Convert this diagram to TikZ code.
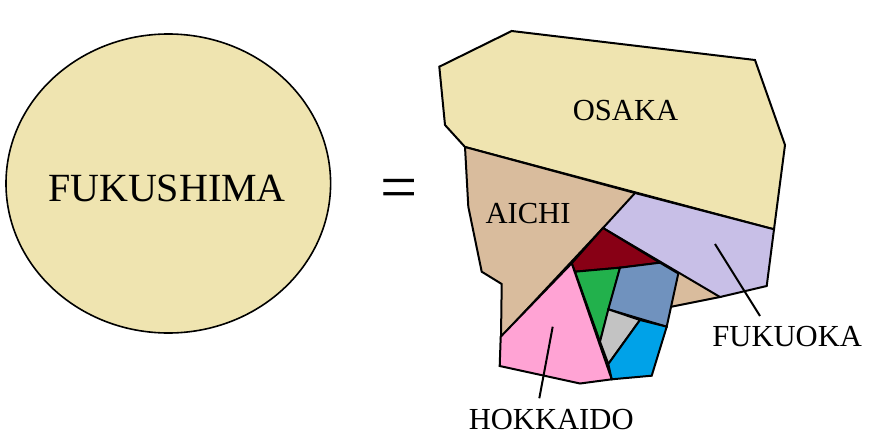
\documentclass[tikz,border=0pt]{standalone}
\usepackage{fontspec}
\setmainfont{Liberation Serif}
\definecolor{osakacol}{RGB}{239,228,176}
\definecolor{aichicol}{RGB}{217,188,157}
\definecolor{fukuokacol}{RGB}{200,191,231}
\definecolor{hokkaidocol}{RGB}{255,163,212}
\definecolor{darkredcol}{RGB}{136,0,21}
\definecolor{greencol}{RGB}{34,177,76}
\definecolor{steelcol}{RGB}{112,146,190}
\definecolor{graycol}{RGB}{195,195,195}
\definecolor{cyancol}{RGB}{0,162,232}
\tikzset{region/.style={draw, line width=2pt, line join=miter}}
\def\bigfont{\fontsize{40}{48}\selectfont}
\def\labfont{\fontsize{30.6}{37}\selectfont}

\begin{document}
\begin{tikzpicture}[x=1pt,y=-1pt]
        \useasboundingbox (0,0) rectangle (875,447);
        \draw[fill=osakacol, line width=1.6pt] (168.3,183.5) ellipse [x radius=162.3, y radius=149.5];
        \draw (167,188) node (fukushima) {\bigfont FUKUSHIMA};
        \draw (398.7,194) node (equals) {\fontsize{66}{70}\selectfont =};
        % the pieces
        \draw[region, fill=osakacol] (439.3,66.7) -- (511.7,31) -- (755,60) -- (785,145) -- (774,229.3) -- (465,147) -- (445,125) -- cycle;
        \draw[region, fill=aichicol] (465,147) -- (635,193) -- (720,297) -- (670,307) -- (603,228) -- (501,337) -- (501.7,284) -- (481.7,271.7) -- (468.3,206.7) -- cycle;
        \draw[region, fill=fukuokacol] (635,193) -- (774,229.3) -- (766.7,286) -- (720,297) -- (603,228) -- cycle;
        \draw[region, fill=darkredcol] (603,228) -- (660,262.7) -- (620,267.7) -- (575,271.7) -- (571.7,263.3) -- cycle;
        \draw[region, fill=greencol] (575,271.7) -- (620,267.7) -- (600,341.7) -- cycle;
        \draw[region, fill=steelcol] (620,267.7) -- (660,262.7) -- (678.3,273.5) -- (666.7,326.7) -- (608.3,309.3) -- cycle;
        \draw[region, fill=graycol] (608.3,309.3) -- (640,320) -- (608.3,364) -- (600,341.7) -- cycle;
        \draw[region, fill=cyancol] (640,320) -- (666.7,326.7) -- (651.7,375.7) -- (611.7,379.3) -- (608.3,364) -- cycle;
        \draw[region, fill=hokkaidocol] (571.7,263.3) -- (611.7,379.3) -- (580,383.5) -- (499.7,366) -- (500.7,336.7) -- cycle;
        % labels
        \draw (625.5,110.8) node (osaka) {\labfont OSAKA};
        \draw (528,213.7) node (aichi) {\labfont AICHI};
        \draw (787.2,336.7) node (fukuoka) {\labfont FUKUOKA};
        \draw (551.2,419.3) node (hokkaido) {\labfont HOKKAIDO};
        \coordinate (fukuoka-in) at (715,244);
        \coordinate (fukuoka-out) at (760,316);
        \coordinate (hokkaido-in) at (552.7,326.7);
        \coordinate (hokkaido-out) at (539.3,398.3);
        \draw[line width=2pt] (fukuoka-in) -- (fukuoka-out);
        \draw[line width=2pt] (hokkaido-in) -- (hokkaido-out);
      \end{tikzpicture}
\end{document}
